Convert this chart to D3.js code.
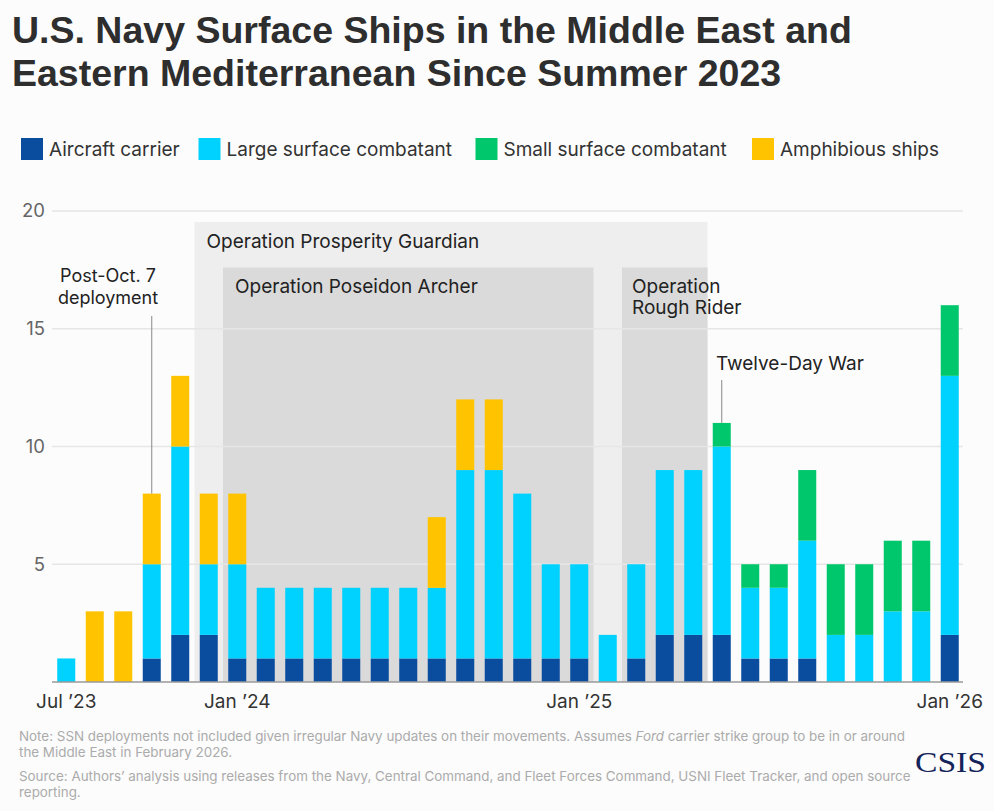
<!DOCTYPE html>
<html>
<head>
<meta charset="utf-8">
<script src="https://cdn.jsdelivr.net/npm/d3@7"></script>
<style>
  html, body { margin: 0; padding: 0; background: #fcfcfc; }
  svg { display: block; }
</style>
</head>
<body>
<svg id="chart" width="994" height="811"></svg>
<script>
// ---------------- DATA ----------------
const months = ["2023-07","2023-08","2023-09","2023-10","2023-11","2023-12",
  "2024-01","2024-02","2024-03","2024-04","2024-05","2024-06","2024-07","2024-08","2024-09","2024-10","2024-11","2024-12",
  "2025-01","2025-02","2025-03","2025-04","2025-05","2025-06","2025-07","2025-08","2025-09","2025-10","2025-11","2025-12",
  "2026-01","2026-02"];
const aircraftCarrier = [0,0,0,1,2,2,1,1,1,1,1,1,1,1,1,1,1,1,1,0,1,2,2,2,1,1,1,0,0,0,0,2];
const largeSurfaceCombatant = [1,0,0,4,8,3,4,3,3,3,3,3,3,3,8,8,7,4,4,2,4,7,7,8,3,3,5,2,2,3,3,11];
const smallSurfaceCombatant = [0,0,0,0,0,0,0,0,0,0,0,0,0,0,0,0,0,0,0,0,0,0,0,1,1,1,3,3,3,3,3,3];
const amphibiousShips = [0,3,3,3,3,3,3,0,0,0,0,0,0,3,3,3,0,0,0,0,0,0,0,0,0,0,0,0,0,0,0,0];
const seriesKeys = ["Aircraft carrier","Large surface combatant","Small surface combatant","Amphibious ships"];
const seriesColors = ["#0a4d9f","#00d2ff","#00c76b","#ffc300"];
const yTicks = [5,10,15,20];
const tickMonths = ["2023-07","2024-01","2025-01","2026-02"];
const tickLabels = ["Jul \u201923","Jan \u201924","Jan \u201925","Jan \u201926"];
const operationNames = ["Operation Prosperity Guardian","Operation Poseidon Archer","Operation Rough Rider"];
const operationStart = ["2023-12","2024-01","2025-03"];
const operationEnd = ["2025-05","2025-01","2025-05"];
const operationTop = [19.53,17.6,17.6];
const annotationTexts = [["Post-Oct. 7","deployment"],["Twelve-Day War"]];
const annotationMonths = ["2023-10","2025-06"];

// ---------------- BUILD ----------------
const svg = d3.select("#chart");
const F = "Inter, 'Noto Sans', sans-serif";
svg.append("rect").attr("width",994).attr("height",811).attr("fill","#fcfcfc");

const rows = months.map((m,i)=>({month:m,
  "Aircraft carrier":aircraftCarrier[i],
  "Large surface combatant":largeSurfaceCombatant[i],
  "Small surface combatant":smallSurfaceCombatant[i],
  "Amphibious ships":amphibiousShips[i]}));

const x = d3.scaleBand().domain(months).range([52,964]).paddingInner(0.368).paddingOuter(0.184);
const y = d3.scaleLinear().domain([0,20]).range([682,211]);
const color = d3.scaleOrdinal().domain(seriesKeys).range(seriesColors);
const half = x.step()*x.paddingInner()/2;

// Title
const title = svg.append("text").attr("font-family","'Liberation Sans', Arial, sans-serif")
  .attr("font-weight","bold").attr("font-size",37.5).attr("fill","#2e2e2e");
title.append("tspan").attr("x",12).attr("y",43).text("U.S. Navy Surface Ships in the Middle East and");
title.append("tspan").attr("x",12).attr("y",86).text("Eastern Mediterranean Since Summer 2023");

// Legend
const legendX = [21,198.5,475.5,752];
seriesKeys.forEach((k,i)=>{
  svg.append("rect").attr("x",legendX[i]).attr("y",138).attr("width",22).attr("height",22).attr("fill",color(k));
  svg.append("text").attr("x",legendX[i]+28).attr("y",156).attr("font-family",F).attr("font-size",19)
    .attr("fill","#333").text(k);
});

// Operation shading
const opG = svg.append("g");
operationNames.forEach((n,i)=>{
  const x0 = x(operationStart[i]) - half;
  const x1 = x(operationEnd[i]) + x.bandwidth() + half;
  opG.append("rect").attr("x",x0).attr("y",y(operationTop[i])).attr("width",x1-x0)
    .attr("height",y(0)-y(operationTop[i])).attr("fill", i===0 ? "#eeeeee" : "#dadada");
});

// Gridlines
svg.append("g").selectAll("line").data(yTicks).join("line")
  .attr("x1",52).attr("x2",963).attr("y1",d=>y(d)).attr("y2",d=>y(d))
  .attr("stroke","#e6e6e6").attr("stroke-width",1.5);
svg.append("g").selectAll("text").data(yTicks).join("text")
  .attr("x",45).attr("y",d=>y(d)).attr("dy","0.35em").attr("text-anchor","end")
  .attr("font-family",F).attr("font-size",18.5).attr("fill","#666").text(d=>d);

// Operation labels
const opLabel = (t, xx, yy) => svg.append("text").attr("x",xx).attr("y",yy).attr("font-family",F)
  .attr("font-size",19).attr("fill","#222").text(t);
opLabel(operationNames[0], x(operationStart[0]) - half + 12, 248);
opLabel(operationNames[1], x(operationStart[1]) - half + 12, 292.5);
const rr = svg.append("text").attr("font-family",F).attr("font-size",19).attr("fill","#222");
rr.append("tspan").attr("x",x(operationStart[2]) - half + 10).attr("y",292.5).text("Operation");
rr.append("tspan").attr("x",x(operationStart[2]) - half + 10).attr("y",314).text("Rough Rider");

// Bars
const stacked = d3.stack().keys(seriesKeys)(rows);
svg.append("g").selectAll("g").data(stacked).join("g").attr("fill",d=>color(d.key))
  .selectAll("rect").data(d=>d).join("rect")
  .attr("x",d=>x(d.data.month)).attr("width",x.bandwidth())
  .attr("y",d=>y(d[1])).attr("height",d=>y(d[0])-y(d[1]));

// Baseline
svg.append("line").attr("x1",52).attr("x2",963).attr("y1",y(0)).attr("y2",y(0))
  .attr("stroke","#9a9a9a").attr("stroke-width",1.5);

// X tick labels
svg.append("g").selectAll("text").data(tickMonths).join("text")
  .attr("x",d=>x(d)+x.bandwidth()/2).attr("y",708).attr("text-anchor","middle")
  .attr("font-family",F).attr("font-size",19).attr("fill","#333")
  .text((d,i)=>tickLabels[i]);

// Annotations
const total = m => { const i = months.indexOf(m); return aircraftCarrier[i]+largeSurfaceCombatant[i]+smallSurfaceCombatant[i]+amphibiousShips[i]; };
const cx0 = x(annotationMonths[0]) + x.bandwidth()/2;
svg.append("line").attr("x1",cx0).attr("x2",cx0).attr("y1",316).attr("y2",y(total(annotationMonths[0])))
  .attr("stroke","#888").attr("stroke-width",1);
const a0 = svg.append("text").attr("text-anchor","middle").attr("font-family",F).attr("font-size",18).attr("fill","#222");
a0.append("tspan").attr("x",108).attr("y",282).text(annotationTexts[0][0]);
a0.append("tspan").attr("x",108).attr("y",304).text(annotationTexts[0][1]);
const cx1 = x(annotationMonths[1]) + x.bandwidth()/2;
svg.append("line").attr("x1",cx1).attr("x2",cx1).attr("y1",380).attr("y2",y(total(annotationMonths[1])))
  .attr("stroke","#888").attr("stroke-width",1);
svg.append("text").attr("x",716).attr("y",370).attr("font-family",F).attr("font-size",19).attr("fill","#222")
  .text(annotationTexts[1][0]);

// Footnotes
const fn = svg.append("g").attr("font-family",F).attr("font-size",13.4).attr("fill","#ababab");
const l1 = fn.append("text").attr("x",19).attr("y",741);
l1.append("tspan").text("Note: SSN deployments not included given irregular Navy updates on their movements. Assumes ");
l1.append("tspan").attr("font-style","italic").text("Ford");
l1.append("tspan").text(" carrier strike group to be in or around");
fn.append("text").attr("x",19).attr("y",757).text("the Middle East in February 2026.");
fn.append("text").attr("x",19).attr("y",781).text("Source: Authors\u2019 analysis using releases from the Navy, Central Command, and Fleet Forces Command, USNI Fleet Tracker, and open source");
fn.append("text").attr("x",19).attr("y",797).text("reporting.");

// Logo
svg.append("text").attr("x",915).attr("y",772).attr("font-family","'Liberation Serif', 'Times New Roman', serif")
  .attr("font-size",29).attr("fill","#14245a").attr("textLength",71).attr("lengthAdjust","spacingAndGlyphs").text("CSIS");
</script>
</body>
</html>
